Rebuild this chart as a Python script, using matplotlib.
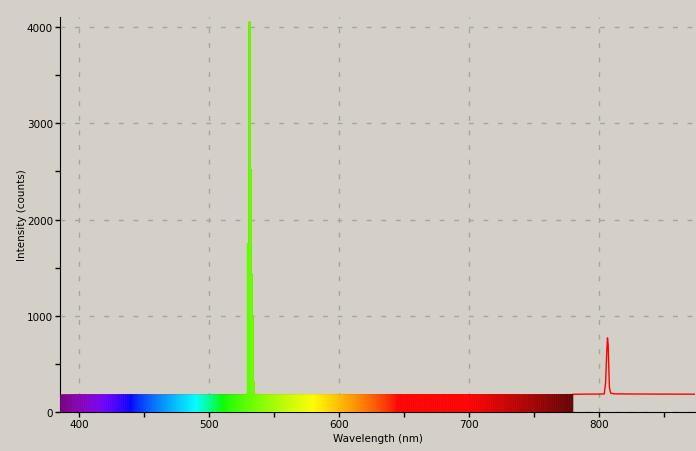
import numpy as np
import matplotlib
matplotlib.use("Agg")
from matplotlib import pyplot as plt
from matplotlib.collections import PolyCollection

# spectrum (nm, counts); the laser line is a few
# detector pixels wide, given as flat-topped columns
wavelength = [385, 400, 420, 440, 460, 480, 500, 515, 525, 529.55,
              529.6, 530.35, 530.4, 531.85, 531.9, 532.65, 532.7, 533.45,
              533.5, 534.15, 534.2, 534.95, 535.0,
              540, 560, 600, 650, 700, 750,
              780, 790, 800, 804, 805, 806, 806.5, 807, 807.5, 808, 809, 812,
              830, 850, 874]
intensity = [178, 181, 180, 182, 179, 181, 182, 180, 182, 185,
             1745, 1745, 4050, 4050, 2520, 2520, 1430, 1430,
             970, 970, 310, 310, 185,
             183, 182, 183, 182, 183, 181,
             184, 186, 186, 188, 300, 650, 770, 700, 460, 250, 195, 188,
             187, 186, 185]

x_major = [400, 500, 600, 700, 800]
y_major = [0, 1000, 2000, 3000, 4000]

bg = '#d4d0c8'


def wl_to_rgb(wl):
    # Bruton's approximation of visible colour
    if wl < 440:
        r, g, b = -(wl - 440) / 60, 0.0, 1.0
    elif wl < 490:
        r, g, b = 0.0, (wl - 440) / 50, 1.0
    elif wl < 510:
        r, g, b = 0.0, 1.0, -(wl - 510) / 20
    elif wl < 580:
        r, g, b = (wl - 510) / 70, 1.0, 0.0
    elif wl < 645:
        r, g, b = 1.0, -(wl - 645) / 65, 0.0
    else:
        r, g, b = 1.0, 0.0, 0.0
    if wl < 420:
        f = 0.3 + 0.7 * (wl - 380) / 40
    elif wl > 700:
        f = 0.3 + 0.7 * (780 - wl) / 80
    else:
        f = 1.0
    return [(max(c, 0) * f) ** 0.8 for c in (r, g, b)]


fig = plt.figure(figsize=(6.96, 4.52), dpi=100, facecolor=bg)
ax = fig.add_axes([60/696, 39/452, 635/696, 395/452], facecolor=bg)

wl = np.array(wavelength)
it = np.array(intensity)

vis = wl <= 780
ir = wl >= 780
ax.plot(wl[vis], it[vis], color='red', lw=0.5, zorder=2)
ax.plot(wl[ir], it[ir], color='red', lw=1, zorder=2)

# colour the area under the visible part slice by slice
xs = np.union1d(wl[vis], np.arange(385, 780.01, 0.5))
ys = np.interp(xs, wl, it)
polys, cols = [], []
for xa, xb, ya, yb in zip(xs[:-1], xs[1:], ys[:-1], ys[1:]):
    polys.append([(xa, 0), (xa, ya), (xb, yb), (xb, 0)])
    cols.append(wl_to_rgb((xa + xb) / 2))
pc = PolyCollection(polys, facecolors=cols, edgecolors=cols, linewidths=0.3,
                    zorder=3)
ax.add_collection(pc)

ax.set_xlim(385.4, 873.8)
ax.set_ylim(0, 4104)
ax.set_xticks(x_major)
ax.set_xticks([450, 550, 650, 750, 850], minor=True)
ax.set_yticks(y_major)
ax.set_yticks([500, 1500, 2500, 3500], minor=True)
ax.tick_params(which='both', direction='out', length=3.5, width=1,
               labelsize=7.5, pad=1.5)
ax.grid(True, which='major', color='#a4a4a4', lw=1, linestyle=(0, (3.5, 7)))
ax.set_axisbelow(True)
for s in ['top', 'right']:
    ax.spines[s].set_visible(False)

ax.set_xlabel('Wavelength (nm)', fontsize=7.5, labelpad=3)
ax.set_ylabel('Intensity (counts)', fontsize=7.5, labelpad=0)

fig.savefig('out.png', dpi=100, facecolor=bg)
